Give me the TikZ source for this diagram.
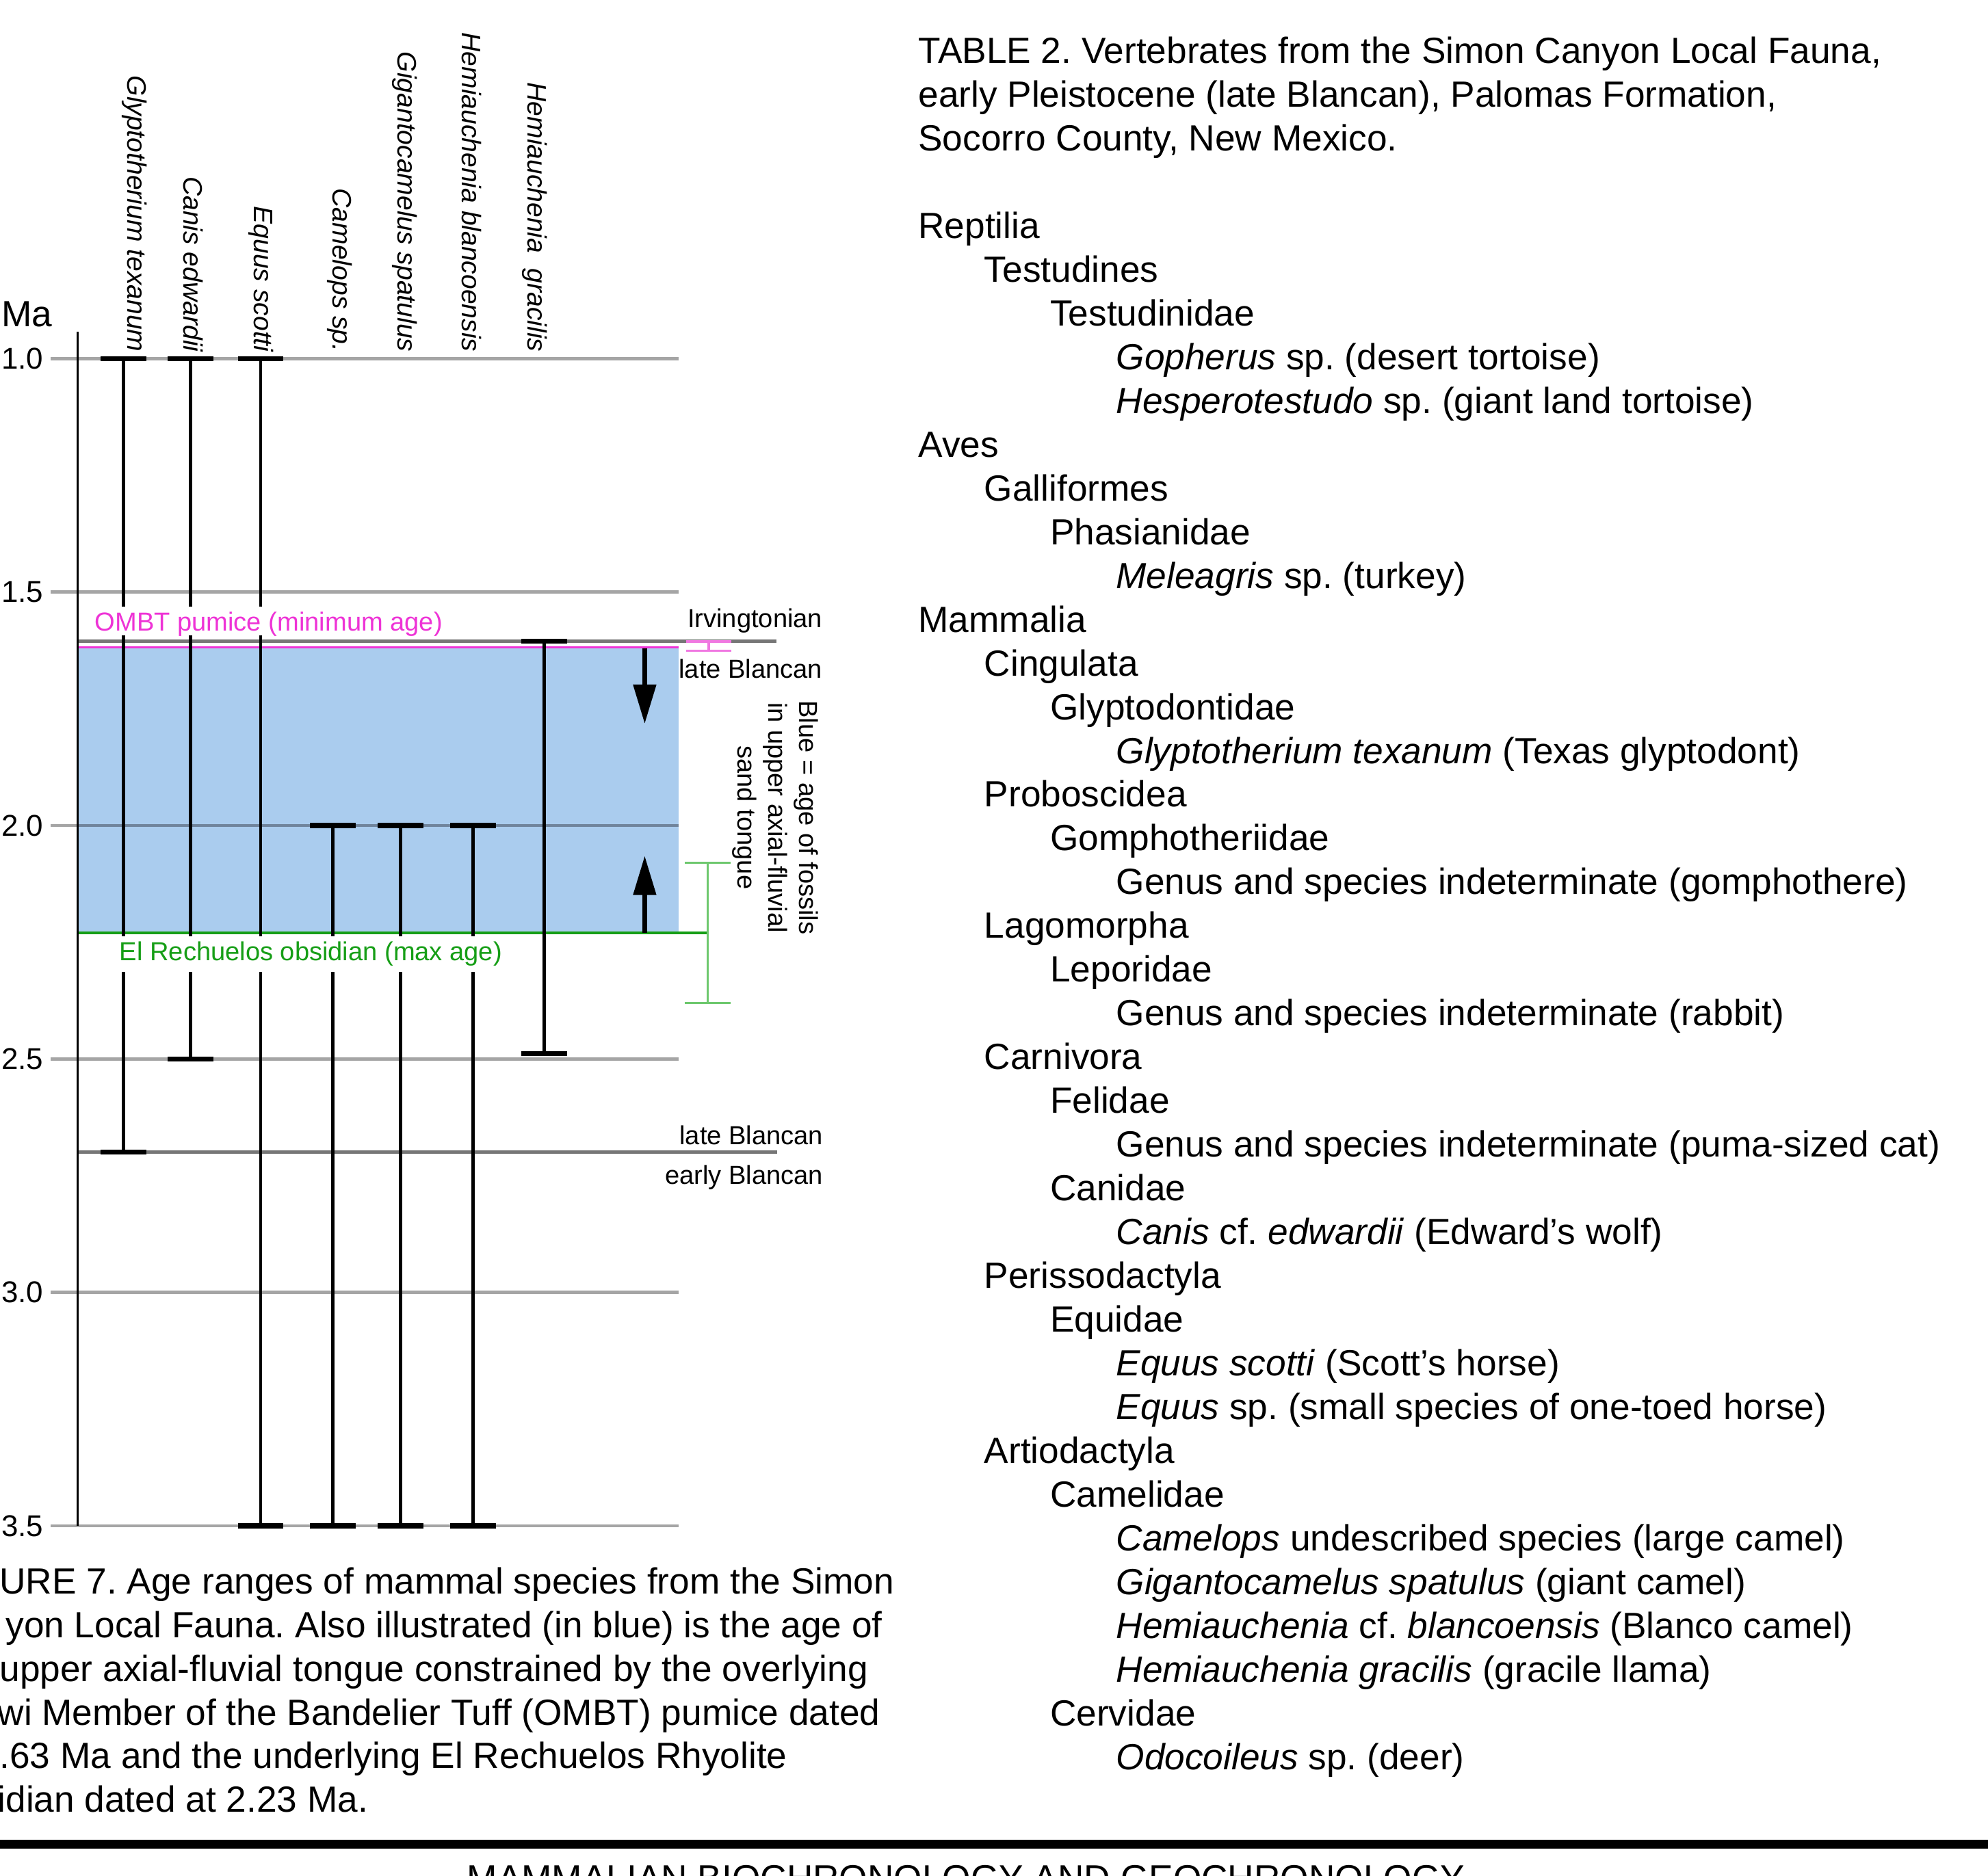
\documentclass[tikz,border=0pt]{standalone}
\usepackage{fontspec}
\setmainfont{Liberation Sans}
\usetikzlibrary{arrows.meta}
\frenchspacing

\definecolor{zoneblue}{RGB}{170,204,238}
\definecolor{gridgray}{RGB}{165,165,165}
\definecolor{griddark}{RGB}{112,132,156}
\definecolor{bandgray}{RGB}{118,118,118}
\definecolor{pumicepink}{RGB}{238,51,214}
\definecolor{pumicebar}{RGB}{240,120,225}
\definecolor{obsidiangreen}{RGB}{22,158,22}
\definecolor{obsidianbar}{RGB}{110,200,110}

\newcommand{\tabsize}{\fontsize{16.35pt}{19.56pt}\selectfont}
\newcommand{\chartsize}{\fontsize{11.7pt}{13.8pt}\selectfont}
\newcommand{\taxonsize}{\fontsize{12pt}{14pt}\selectfont}
\newcommand{\ticksize}{\fontsize{13.5pt}{15pt}\selectfont}

\begin{document}
\begin{tikzpicture}[x=0.02cm, y=-0.02cm,
    gridline/.style={draw=gridgray, line width=1.4pt},
    boundary/.style={draw=bandgray, line width=1.5pt},
    rangebar/.style={line width=1.4pt},
    rangecap/.style={line width=2.2pt},
    axisline/.style={line width=1.1pt},
    bigarrow/.style={line width=2pt, -{Triangle[length=17.6pt, width=10pt]}},
    chartlbl/.style={font=\chartsize, inner sep=0pt},
    datelbl/.style={font=\chartsize, fill=white, inner xsep=2pt, inner ysep=0pt, text height=11pt, anchor=base west},
    taxon/.style={font=\taxonsize\itshape, rotate=-90, anchor=east, inner sep=0pt},
    ticklbl/.style={font=\ticksize, anchor=east, inner sep=0pt},
    textline/.style={font=\tabsize, anchor=base west, inner sep=0pt}]
\useasboundingbox (0,0) rectangle (1568,1480);
\fill[white] (0,0) rectangle (1568,1480);

% Age chart (y in Ma)
\begin{scope}[y=-7.368cm, yshift=1.708cm]
\fill[zoneblue] (61.5,1.62) rectangle (535.5,2.23);
\foreach \a [count=\i] in {1.0,1.5,2.0,2.5,3.0,3.5} {
    \draw[gridline] (40,\a) -- (535.5,\a);
    \node[ticklbl] (tick\i) at (34.5,\a) {\a};
}
\draw[gridline, draw=griddark] (61.5,2.0) -- (535.5,2.0);

% Land mammal age boundaries
\draw[boundary] (61.5,1.605) -- (612.5,1.605);
\draw[boundary] (61.5,2.7) -- (613,2.7);

% Dated layers with error bars
\draw[pumicepink, line width=1pt] (61.5,1.618) -- (535.5,1.618);
\draw[pumicebar, line width=1pt] (541,1.606) -- (577,1.606) (559,1.606) -- (559,1.626) (541,1.626) -- (577,1.626);
\draw[obsidiangreen, line width=1.2pt] (61.5,2.23) -- (558,2.23);
\draw[obsidianbar, line width=1pt] (540,2.08) -- (576,2.08) (558,2.08) -- (558,2.38) (540,2.38) -- (576,2.38);

% Species ranges
\foreach \x/\fad/\lad in {97.3/1.0/2.7, 150.3/1.0/2.5, 205.6/1.0/3.5, 262.5/2.0/3.5, 316/2.0/3.5, 373.2/2.0/3.5, 429.3/1.605/2.489} {
    \draw[rangebar] (\x,\fad) -- (\x,\lad);
    \draw[rangecap] (\x-18,\fad) -- (\x+18,\fad) (\x-18,\lad) -- (\x+18,\lad);
}
\draw[axisline] (61.2,0.943) -- (61.2,3.5);

% Arrows into the blue zone
\coordinate (pumicebase) at (508.5,1.62);
\coordinate (downtip) at (508.5,1.782);
\coordinate (obsidianbase) at (508.5,2.23);
\coordinate (uptip) at (508.5,2.065);
\draw[bigarrow] (pumicebase) -- (downtip);
\draw[bigarrow] (obsidianbase) -- (uptip);
\end{scope}

% Chart labels
\node[font=\tabsize, anchor=base east, inner sep=0pt] (ma) at (41.5,257.5) {Ma};
\node[datelbl, text depth=2pt, text=pumicepink] (ombt) at (71,498) {OMBT pumice (minimum age)};
\node[datelbl, text depth=5pt, text=obsidiangreen] (rechuelos) at (90.5,758) {El Rechuelos obsidian (max age)};
\node[chartlbl, anchor=base east] (irv) at (649,495) {Irvingtonian};
\node[chartlbl, anchor=base east] (lateup) at (649,535) {late Blancan};
\node[chartlbl, anchor=base east] (latelow) at (649.5,903) {late Blancan};
\node[chartlbl, anchor=base east] (early) at (649.5,934) {early Blancan};
\node[chartlbl, rotate=-90, align=center] (bluenote) at (611.5,645) {Blue = age of fossils\\in upper axial-fluvial\\sand tongue};
\foreach \x/\name [count=\i] in {106/Glyptotherium texanum, 152.5/Canis edwardii, 206/Equus scotti, 268/Camelops sp., 319/Gigantocamelus spatulus, 372/Hemiauchenia blancoensis, 421.5/{Hemiauchenia\hspace{0.3em} gracilis}}
    \node[taxon] (taxon\i) at (\x,278) {\name};

% Table 2
\foreach \txt [count=\k from 0] in {{TABLE 2. Vertebrates from the Simon Canyon Local Fauna,}, {early Pleistocene (late Blancan), Palomas Formation,}, {Socorro County, New Mexico.}}
    \node[textline] (head\k) at (724,50+34.51*\k) {\txt};
\foreach \lvl/\txt [count=\k from 4] in {0/Reptilia, 1/Testudines, 2/Testudinidae,
    3/{\textit{Gopherus} sp. (desert tortoise)}, 3/{\textit{Hesperotestudo} sp. (giant land tortoise)},
    0/Aves, 1/Galliformes, 2/Phasianidae, 3/{\textit{Meleagris} sp. (turkey)},
    0/Mammalia, 1/Cingulata, 2/Glyptodontidae, 3/{\textit{Glyptotherium texanum} (Texas glyptodont)},
    1/Proboscidea, 2/Gomphotheriidae, 3/{Genus and species indeterminate (gomphothere)},
    1/Lagomorpha, 2/Leporidae, 3/{Genus and species indeterminate (rabbit)},
    1/Carnivora, 2/Felidae, 3/{Genus and species indeterminate (puma-sized cat)},
    2/Canidae, 3/{\textit{Canis} cf. \textit{edwardii} (Edward’s wolf)},
    1/Perissodactyla, 2/Equidae, 3/{\textit{Equus scotti} (Scott’s horse)},
    3/{\textit{Equus} sp. (small species of one-toed horse)},
    1/Artiodactyla, 2/Camelidae, 3/{\textit{Camelops} undescribed species (large camel)},
    3/{\textit{Gigantocamelus spatulus} (giant camel)}, 3/{\textit{Hemiauchenia} cf. \textit{blancoensis} (Blanco camel)},
    3/{\textit{Hemiauchenia gracilis} (gracile llama)}, 2/Cervidae, 3/{\textit{Odocoileus} sp. (deer)}}
    \node[textline] (taxa\k) at (724+52*\lvl,50+34.51*\k) {\txt};

% Figure 7 caption (cut at the left edge)
\foreach \txt [count=\j from 0] in {{\phantom{FIG}URE 7. Age ranges of mammal species from the Simon},
    {\phantom{Can}yon Local Fauna. Also illustrated (in blue) is the age of},
    {\phantom{the} upper axial-fluvial tongue constrained by the overlying},
    {\phantom{Oto}wi Member of the Bandelier Tuff (OMBT) pumice dated},
    {\phantom{at 1}.63 Ma and the underlying El Rechuelos Rhyolite},
    {\phantom{obs}idian dated at 2.23 Ma.}}
    \node[textline] (caption\j) at (-48.5,1257.3+34.5*\j) {\txt};

% Page rule and running head
\fill (0,1451.5) rectangle (1568,1458.5);
\node[textline] (runhead) at (368,1491.8) {MAMMALIAN BIOCHRONOLOGY AND GEOCHRONOLOGY};
\end{tikzpicture}
\end{document}
